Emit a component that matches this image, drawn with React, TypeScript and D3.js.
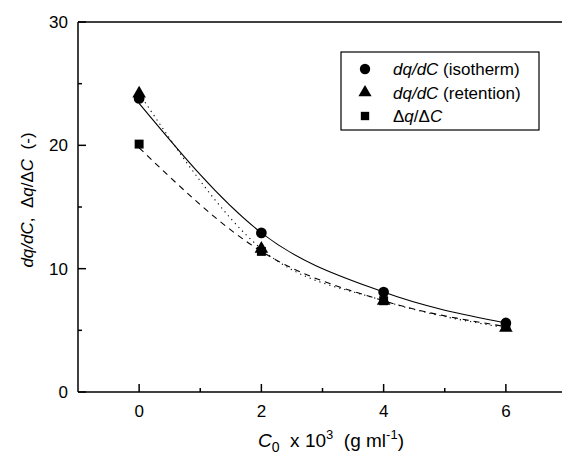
import React, { useEffect, useRef } from 'react';
import * as d3 from 'd3';

// concentrations (x 10^3 g/ml)
const conc = [0, 2, 4, 6];
const isotherm = [23.8, 12.9, 8.1, 5.6];
const retention = [24.2, 11.6, 7.4, 5.2];
const ratio = [20.1, 11.4, 7.4, 5.3];
const xTicks = [0, 2, 4, 6];
const xMinor = [1, 3, 5];
const yTicks = [0, 10, 20, 30];
const yMinor = [5, 15, 25];

const App = () => {
  const ref = useRef<SVGSVGElement>(null);

  useEffect(() => {
    const svg = d3.select(ref.current);
    svg.selectAll('*').remove();
    const font = 'Liberation Sans, Arial, sans-serif';

    const x = d3.scaleLinear().domain([-1, 7]).range([78, 567]);
    const y = d3.scaleLinear().domain([0, 30]).range([392, 22]);

    // frame: left, bottom, top
    const g = svg.append('g').attr('stroke', '#000').attr('stroke-width', 1.5).attr('fill', 'none');
    g.append('line').attr('x1', x(-1)).attr('x2', x(-1)).attr('y1', y(0)).attr('y2', y(30));
    g.append('line').attr('x1', x(-1)).attr('x2', x(7)).attr('y1', y(0)).attr('y2', y(0));
    g.append('line').attr('x1', x(-1)).attr('x2', x(7)).attr('y1', y(30)).attr('y2', y(30));

    // ticks (inward)
    xTicks.forEach(t => g.append('line').attr('x1', x(t)).attr('x2', x(t)).attr('y1', y(0)).attr('y2', y(0) - 8));
    xMinor.forEach(t => g.append('line').attr('x1', x(t)).attr('x2', x(t)).attr('y1', y(0)).attr('y2', y(0) - 4));
    yTicks.forEach(t => g.append('line').attr('x1', x(-1)).attr('x2', x(-1) + 8).attr('y1', y(t)).attr('y2', y(t)));
    yMinor.forEach(t => g.append('line').attr('x1', x(-1)).attr('x2', x(-1) + 4).attr('y1', y(t)).attr('y2', y(t)));

    xTicks.forEach(t => svg.append('text').attr('x', x(t)).attr('y', y(0) + 25)
      .attr('text-anchor', 'middle').attr('font-family', font).attr('font-size', 17).text(t));
    yTicks.forEach(t => svg.append('text').attr('x', x(-1) - 10).attr('y', y(t) + 6)
      .attr('text-anchor', 'end').attr('font-family', font).attr('font-size', 17).text(t));

    // fitted curves
    const line = (vals: number[]) => d3.line<number>()
      .x((d, i) => x(conc[i])).y(d => y(d)).curve(d3.curveMonotoneX)(vals);
    svg.append('path').attr('d', line([23.4, 12.9, 8.1, 5.6])).attr('fill', 'none')
      .attr('stroke', '#000').attr('stroke-width', 1.1);
    svg.append('path').attr('d', line(retention)).attr('fill', 'none')
      .attr('stroke', '#000').attr('stroke-width', 1.1).attr('stroke-dasharray', '1.2,4');
    svg.append('path').attr('d', line([19.8, 11.4, 7.4, 5.3])).attr('fill', 'none')
      .attr('stroke', '#000').attr('stroke-width', 1.1).attr('stroke-dasharray', '6,5');

    // markers
    const sym = (type: d3.SymbolType, size: number) => d3.symbol().type(type).size(size)();
    const drawPts = (vals: number[], type: d3.SymbolType, size: number) => {
      svg.append('g').selectAll('path').data(vals).join('path')
        .attr('transform', (d, i) => `translate(${x(conc[i])},${y(d)})`)
        .attr('d', sym(type, size)).attr('fill', '#000');
    };
    drawPts(ratio, d3.symbolSquare, 80);
    drawPts(retention, d3.symbolTriangle, 80);
    drawPts(isotherm, d3.symbolCircle, 90);

    // legend
    svg.append('rect').attr('x', 341).attr('y', 52).attr('width', 198).attr('height', 78)
      .attr('fill', '#fff').attr('stroke', '#000').attr('stroke-width', 1.2);
    const leg = [
      { type: d3.symbolCircle, size: 85, it: 'dq/dC', rest: ' (isotherm)' },
      { type: d3.symbolTriangle, size: 75, it: 'dq/dC', rest: ' (retention)' },
      { type: d3.symbolSquare, size: 70, it: '', rest: 'Δq/ΔC' },
    ];
    leg.forEach((l, i) => {
      const ly = 69 + i * 23.5;
      svg.append('path').attr('transform', `translate(365,${ly})`).attr('d', sym(l.type, l.size)).attr('fill', '#000');
      const t = svg.append('text').attr('x', 393).attr('y', ly + 6).attr('font-family', font).attr('font-size', 17);
      if (l.it) t.append('tspan').attr('font-style', 'italic').text(l.it);
      if (i < 2) t.append('tspan').text(l.rest);
      else {
        t.append('tspan').text('Δ');
        t.append('tspan').attr('font-style', 'italic').text('q');
        t.append('tspan').text('/Δ');
        t.append('tspan').attr('font-style', 'italic').text('C');
      }
    });

    // axis titles
    const xt = svg.append('text').attr('x', 331).attr('y', 447).attr('text-anchor', 'middle')
      .attr('font-family', font).attr('font-size', 19).attr('style', 'white-space: pre');
    xt.append('tspan').attr('font-style', 'italic').text('C');
    xt.append('tspan').attr('font-size', 14).attr('dy', 5).text('0');
    xt.append('tspan').attr('dy', -5).text('  x 10');
    xt.append('tspan').attr('font-size', 13).attr('dy', -8).text('3');
    xt.append('tspan').attr('dy', 8).text('  (g ml');
    xt.append('tspan').attr('font-size', 13).attr('dy', -8).text('-1');
    xt.append('tspan').attr('dy', 8).text(')');

    const yt = svg.append('text').attr('transform', 'translate(33,200) rotate(-90)')
      .attr('text-anchor', 'middle').attr('font-family', font).attr('font-size', 17)
      .attr('style', 'white-space: pre');
    yt.append('tspan').attr('font-style', 'italic').text('dq/dC');
    yt.append('tspan').text(',  Δ');
    yt.append('tspan').attr('font-style', 'italic').text('q');
    yt.append('tspan').text('/Δ');
    yt.append('tspan').attr('font-style', 'italic').text('C');
    yt.append('tspan').text('  (-)');
  }, []);

  return <svg ref={ref} width={562} height={455} style={{ position: 'absolute', left: 0, top: 0 }} />;
};

export default App;
